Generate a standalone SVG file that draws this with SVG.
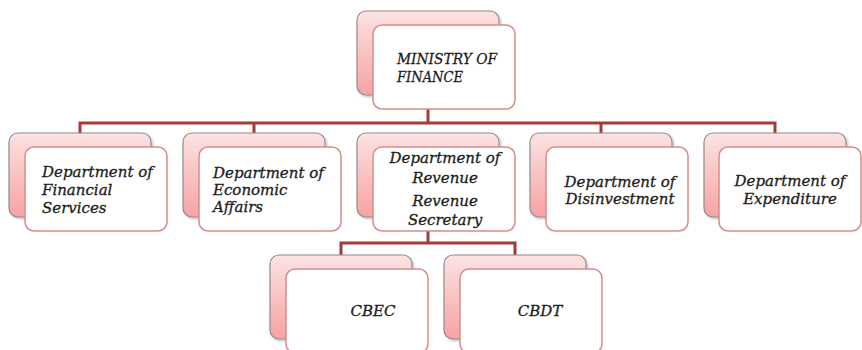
<svg xmlns="http://www.w3.org/2000/svg" width="862" height="350" viewBox="0 0 862 350">
  <style>
    .back { fill: url(#backFill); stroke: #8e8e8e; stroke-width: 1.2; }
    .front { fill: #ffffff; stroke: #d98c8c; stroke-width: 1.5; }
    .lbl { font-family: "DejaVu Serif", "Liberation Serif", serif; font-style: italic; font-size: 15px; fill: #1c1c1c; stroke: #1c1c1c; stroke-width: 0.3; }
    .mid { text-anchor: middle; }
    .conn { fill: none; stroke: #a33b3b; stroke-width: 3; }
  </style>
  <defs>
    <linearGradient id="backFill" x1="0" y1="0" x2="0" y2="1">
      <stop offset="0" stop-color="#fce3e3"/>
      <stop offset="1" stop-color="#f7a2a2"/>
    </linearGradient>
    <filter id="soft" x="-10%" y="-10%" width="130%" height="130%">
      <feDropShadow dx="1.5" dy="1.5" stdDeviation="1.2" flood-color="#000" flood-opacity="0.25"/>
    </filter>
  </defs>
  <rect width="862" height="350" fill="#ffffff"/>

  <!-- connectors -->
  <g id="connectors">
    <path class="conn" d="M428 95 V123 M80 133 V123 H775 V133 M254 123 V133 M601 123 V133"/>
    <path class="conn" d="M428 225 V243 M341 255 V243 H515 V255"/>
  </g>

  <!-- top -->
  <g id="ministry">
    <rect class="back" x="357" y="11" width="142" height="84" rx="9" filter="url(#soft)"/>
    <rect class="front" x="373" y="25" width="142" height="84" rx="9"/>
    <text class="lbl" x="397" y="64" textLength="100" lengthAdjust="spacingAndGlyphs">MINISTRY OF</text>
    <text class="lbl" x="397" y="82" textLength="66" lengthAdjust="spacingAndGlyphs">FINANCE</text>
  </g>

  <!-- departments -->
  <g id="dept-financial">
    <rect class="back" x="9" y="133" width="142" height="84" rx="9" filter="url(#soft)"/>
    <rect class="front" x="25" y="147" width="142" height="84" rx="9"/>
    <text class="lbl" x="42" y="177">Department of</text>
    <text class="lbl" x="42" y="195">Financial</text>
    <text class="lbl" x="42" y="213">Services</text>
  </g>
  <g id="dept-economic">
    <rect class="back" x="183" y="133" width="142" height="84" rx="9" filter="url(#soft)"/>
    <rect class="front" x="199" y="147" width="142" height="84" rx="9"/>
    <text class="lbl" x="213" y="178">Department of</text>
    <text class="lbl" x="213" y="195">Economic</text>
    <text class="lbl" x="213" y="212">Affairs</text>
  </g>
  <g id="dept-revenue">
    <rect class="back" x="357" y="133" width="142" height="84" rx="9" filter="url(#soft)"/>
    <rect class="front" x="373" y="147" width="142" height="84" rx="9"/>
    <text class="lbl mid" x="445" y="163">Department of</text>
    <text class="lbl mid" x="445" y="183">Revenue</text>
    <text class="lbl mid" x="445" y="206">Revenue</text>
    <text class="lbl mid" x="445" y="225">Secretary</text>
  </g>
  <g id="dept-disinvestment">
    <rect class="back" x="530" y="133" width="142" height="84" rx="9" filter="url(#soft)"/>
    <rect class="front" x="546" y="147" width="142" height="84" rx="9"/>
    <text class="lbl mid" x="620" y="187">Department of</text>
    <text class="lbl mid" x="620" y="204">Disinvestment</text>
  </g>
  <g id="dept-expenditure">
    <rect class="back" x="704" y="133" width="142" height="84" rx="9" filter="url(#soft)"/>
    <rect class="front" x="719" y="147" width="142" height="84" rx="9"/>
    <text class="lbl mid" x="790" y="186">Department of</text>
    <text class="lbl mid" x="790" y="204">Expenditure</text>
  </g>

  <!-- boards -->
  <g id="cbec">
    <rect class="back" x="270" y="255" width="142" height="84" rx="9" filter="url(#soft)"/>
    <rect class="front" x="286" y="269" width="142" height="84" rx="9"/>
    <text class="lbl mid" x="373" y="316">CBEC</text>
  </g>
  <g id="cbdt">
    <rect class="back" x="444" y="255" width="142" height="84" rx="9" filter="url(#soft)"/>
    <rect class="front" x="460" y="269" width="142" height="84" rx="9"/>
    <text class="lbl mid" x="540" y="316">CBDT</text>
  </g>
</svg>
